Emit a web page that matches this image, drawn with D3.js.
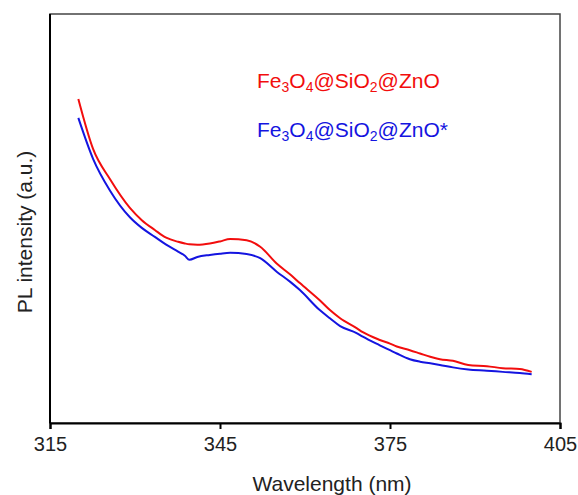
<!DOCTYPE html>
<html>
<head>
<meta charset="utf-8">
<script src="https://cdn.jsdelivr.net/npm/d3@7"></script>
<style>
  body { margin: 0; background: #fff; }
  text { font-family: Arial, "Liberation Sans", sans-serif; }
</style>
</head>
<body>
<div id="chart"></div>
<script>
// PL spectra (arbitrary units, 0..100)
var wavelengths = [320, 322.6, 325.6, 329.1, 331.2, 333.5, 335.5, 337.6, 338.8, 339.6, 341, 343.2, 345, 346.8, 349.7, 352.1, 355, 357.4, 359.1, 362.6, 364.4, 366.2, 369.1, 370.2, 373.2, 375, 376.2, 378.5, 380.3, 382.1, 383.8, 386.1, 388.8, 392.1, 394.9, 397.9, 400];
var plZnO = [79.2, 67.0, 59.6, 52.6, 49.6, 47.2, 45.3, 44.3, 43.9, 43.7, 43.6, 43.9, 44.4, 45.0, 44.7, 43.1, 39.0, 36.3, 34.2, 30.0, 27.6, 25.6, 23.2, 22.2, 20.3, 19.4, 18.7, 17.8, 17.0, 16.2, 15.6, 15.2, 14.2, 13.9, 13.4, 13.2, 12.5];
var plZnOStar = [74.6, 64.6, 56.8, 50.3, 47.7, 45.5, 43.6, 41.9, 40.9, 39.9, 40.6, 41.1, 41.4, 41.6, 41.3, 40.3, 37.0, 34.5, 32.5, 27.6, 25.6, 23.7, 22.0, 21.1, 19.0, 17.8, 17.0, 15.6, 15.0, 14.6, 14.2, 13.6, 13.1, 12.8, 12.5, 12.2, 11.9];
var xTicks = [315, 345, 375, 405];
var seriesNames = ['ZnO', 'ZnO*'];
var seriesColors = ['#f20d0d', '#1414e0'];

var width = 578, height = 495;
var margin = { top: 14, right: 18, bottom: 72, left: 50 };
var plotW = width - margin.left - margin.right,
    plotH = height - margin.top - margin.bottom;

var svg = d3.select('#chart').append('svg')
    .attr('width', width)
    .attr('height', height);

var g = svg.append('g')
    .attr('transform', 'translate(' + margin.left + ',' + margin.top + ')');

var x = d3.scaleLinear().domain([315, 405]).range([0, plotW]);
var y = d3.scaleLinear().domain([0, 100]).range([plotH, 0]);

// frame
g.append('rect')
    .attr('width', plotW)
    .attr('height', plotH)
    .attr('fill', 'none')
    .attr('stroke', '#444')
    .attr('stroke-width', 1.5);

var xAxis = g.append('g')
    .attr('transform', 'translate(0,' + plotH + ')')
    .call(d3.axisBottom(x).tickValues(xTicks).tickSizeOuter(0).tickSize(6).tickPadding(8));
xAxis.select('.domain').attr('stroke', '#000').attr('stroke-width', 2);
xAxis.selectAll('.tick line').attr('stroke', '#000').attr('stroke-width', 2);
xAxis.selectAll('.tick text')
    .attr('fill', '#222')
    .style('font-size', '20px')
    .style('font-family', 'Arial, "Liberation Sans", sans-serif');

g.append('line')
    .attr('x1', 0).attr('x2', 0)
    .attr('y1', 0).attr('y2', plotH)
    .attr('stroke', '#000')
    .attr('stroke-width', 2);

var line = d3.line()
    .curve(d3.curveMonotoneX)
    .x(function(d) { return x(d[0]); })
    .y(function(d) { return y(d[1]); });

[plZnO, plZnOStar].forEach(function(vals, i) {
    g.append('path')
        .datum(wavelengths.map(function(w, k) { return [w, vals[k]]; }))
        .attr('fill', 'none')
        .attr('stroke', seriesColors[i])
        .attr('stroke-width', 2)
        .attr('stroke-linejoin', 'round')
        .attr('d', line);
});

// legend labels with subscripts
var legendY = [88, 137];
var parts = [['Fe', 0], ['3', 1], ['O', 0], ['4', 1], ['@SiO', 0], ['2', 1], ['@', 0]];
seriesNames.forEach(function(name, i) {
    var t = svg.append('text')
        .attr('x', 257)
        .attr('y', legendY[i])
        .attr('fill', seriesColors[i])
        .style('font-size', '21px');
    parts.forEach(function(p, k) {
        var prev = k > 0 ? parts[k - 1][1] : 0;
        var s = t.append('tspan')
            .text(p[1] ? p[0] : (k === parts.length - 1 ? '@' + name : p[0]))
            .attr('dy', p[1] && !prev ? 4 : (!p[1] && prev ? -4 : 0));
        if (p[1]) s.style('font-size', '14px');
    });
});

svg.append('text')
    .attr('x', 332)
    .attr('y', 491)
    .attr('text-anchor', 'middle')
    .attr('fill', '#222')
    .style('font-size', '21px')
    .text('Wavelength (nm)');

svg.append('text')
    .attr('transform', 'translate(32,232) rotate(-90)')
    .attr('text-anchor', 'middle')
    .attr('fill', '#222')
    .style('font-size', '21px')
    .text('PL intensity (a.u.)');
</script>
</body>
</html>
